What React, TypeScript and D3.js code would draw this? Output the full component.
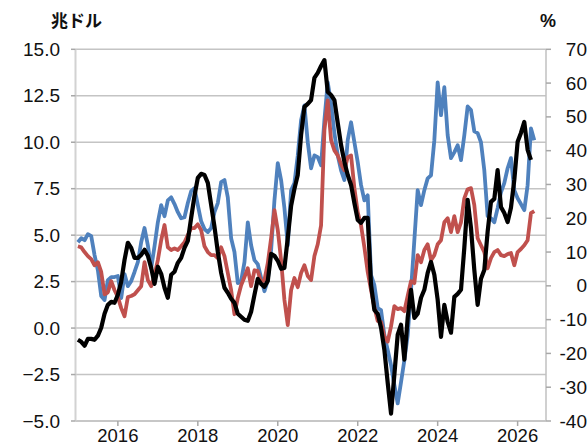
import React from 'react';
import * as d3 from 'd3';

const startYear = 2015;

const blueValues = [
  12.9, 14.1, 13.5, 15.3, 14.7, 9.1, 4.6, -3.0, -4.2, 1.7, 2.6, 2.6,
  2.9, -3.6, 3.5, -0.1, 1.4, 4.1, 7.0, 12.9, 17.1, 12.0, 5.2, 11.7,
  18.8, 23.9, 20.6, 25.3, 26.2, 24.2, 21.8, 20.0, 20.3, 24.5, 28.0, 28.9,
  23.9, 19.1, 16.8, 15.9, 17.1, 21.8, 24.5, 30.7, 31.3, 26.2, 14.1, 10.0,
  0.8, 1.4, 7.0, 18.8, 12.0, 7.6, 6.4, 2.3, -1.6, 1.7, 10.6, 25.3,
  36.3, 31.3, 23.0, 12.0, 28.3, 30.4, 38.6, 49.0, 53.4, 42.5, 34.8, 38.6,
  38.1, 35.7, 49.0, 60.2, 54.0, 45.2, 38.6, 34.2, 31.3, 43.1, 48.4, 42.5,
  36.6, 29.8, 25.3, 26.8, 3.2, 0.2, -6.6, -7.2, -14.6, -19.0, -23.5, -29.4,
  -34.8, -28.5, -22.0, -14.6, -1.3, 13.5, 28.3, 23.9, 28.3, 31.8, 32.7, 43.1,
  60.2, 50.5, 58.8, 44.6, 37.8, 39.5, 41.6, 37.2, 44.6, 53.1, 52.0, 45.7,
  45.2, 42.5, 34.2, 20.6, 20.0, 18.8, 23.0, 27.7, 30.4, 34.8, 37.8, 28.3,
  25.9, 24.2, 22.4, 29.8, 46.6, 43.1,
];

const redValues = [
  11.7, 11.4, 10.0, 8.8, 7.9, 6.1, 7.0, 4.1, -2.5, -1.9, 1.4, -1.3,
  -3.3, -6.6, -9.0, -3.3, -3.0, -2.5, -1.3, -0.1, 7.0, 1.7, -0.1, 3.2,
  7.6, 13.5, 18.0, 11.4, 10.6, 11.1, 10.6, 11.7, 12.9, 15.0, 17.1, 17.1,
  18.2, 16.5, 11.7, 10.0, 9.1, 9.1, 8.2, 11.4, 8.8, 3.8, -1.3, -8.4,
  -3.6, 0.2, 2.6, 5.2, -0.1, 4.6, 4.4, 1.1, 1.7, 6.7, 14.1, 22.4,
  16.5, 7.6, -4.2, -11.6, -1.3, 2.3, -0.4, 3.8, 6.1, 2.9, 1.7, 8.8,
  12.3, 17.9, 46.0, 54.9, 43.1, 40.1, 38.6, 36.0, 34.2, 38.1, 38.6, 28.9,
  21.8, 17.9, 11.4, 4.1, -1.3, -6.3, -10.4, -10.7, -15.0, -16.5, -12.0, -6.0,
  -6.9, -6.6, -7.5, -3.0, 1.4, 0.8, 9.1, 7.0, 10.6, 12.3, 7.6, 9.1,
  12.3, 13.5, 18.8, 20.0, 15.9, 20.6, 15.9, 18.8, 25.9, 28.6, 28.9, 23.9,
  14.1, 12.0, 10.0, 5.2, 8.2, 10.0, 10.6, 9.1, 8.8, 9.4, 9.7, 6.1,
  10.0, 10.9, 12.0, 13.5, 21.5, 22.1,
];

const blackValues = [
  -0.63, -0.74, -0.95, -0.58, -0.58, -0.63, -0.41, 0.02, 0.77, 1.25, 1.41, 1.36,
  1.79, 2.49, 3.67, 4.59, 4.32, 3.78, 3.78, 3.94, 4.21, 3.89, 3.24, 2.38,
  3.30, 2.92, 2.17, 1.63, 2.87, 3.03, 3.51, 3.78, 4.32, 4.69, 5.93, 7.11,
  8.08, 8.30, 8.24, 7.81, 6.63, 5.45, 4.10, 2.97, 2.17, 1.90, 1.58, 1.36,
  0.77, 0.61, 0.45, 0.39, 0.88, 1.79, 2.65, 2.38, 2.22, 2.54, 3.99, 3.89,
  3.62, 3.19, 3.24, 4.85, 6.57, 7.49, 8.24, 10.39, 11.90, 12.06, 12.27, 13.46,
  13.73, 14.10, 14.42, 12.70, 12.54, 12.27, 11.04, 9.85, 8.94, 8.24, 7.70, 6.73,
  5.82, 5.66, 5.93, 5.93, 2.33, 0.98, 0.77, 0.02, -1.17, -2.94, -4.6, -2.51,
  -0.36, 0.18, -1.70, 0.55, 2.06, 0.55, 0.77, 1.63, 2.06, 2.97, 3.56, 2.87,
  1.52, -0.47, 1.25, 0.34, -0.25, 1.68, 1.84, 2.06, 4.32, 6.90, 5.39, 3.13,
  1.25, 2.65, 3.13, 5.18, 6.79, 6.95, 8.50, 6.52, 6.19, 5.70, 6.47, 7.97,
  10.02, 10.50, 11.09, 9.59, 9.05,
];

const leftTicks = [15, 12.5, 10, 7.5, 5, 2.5, 0, -2.5, -5];
const rightTicks = [70, 60, 50, 40, 30, 20, 10, 0, -10, -20, -30, -40];
const yearTicks = [2016, 2018, 2020, 2022, 2024, 2026];
const leftTitle = '兆ドル';
const rightTitle = '%';

const FONT = "'Liberation Sans', Arial, sans-serif";

export default function App() {
  const W = 588;
  const H = 446;
  const left = 75.5;
  const right = 546;
  const top = 49.3;
  const bottom = 421;

  const x = d3.scaleLinear().domain([2014.94, 2026.71]).range([left, right]);
  const yL = d3.scaleLinear().domain([-5, 15]).range([bottom, top]);
  const yR = d3.scaleLinear().domain([-40, 70]).range([bottom, top]);
  const t = (i: number) => startYear + i / 12;

  const lineL = d3.line<number>().x((_, i) => x(t(i))).y((d) => yL(d)).curve(d3.curveLinear);
  const lineR = d3.line<number>().x((_, i) => x(t(i))).y((d) => yR(d)).curve(d3.curveLinear);

  return (
    <svg width={W} height={H} style={{ position: 'absolute', left: 0, top: 0, background: '#fff' }}>
      <rect x={0} y={0} width={W} height={H} fill="#fff" />
      {leftTicks.map((v) => (
        <line key={'g' + v} x1={left} x2={right} y1={yL(v)} y2={yL(v)} stroke={v === -5 ? '#b4b4b4' : '#c4c4c4'} strokeWidth={1.5} />
      ))}
      <line x1={left} x2={left} y1={top} y2={bottom} stroke="#d2d2d2" strokeWidth={2} />
      {leftTicks.map((v) => (
        <line key={'lt' + v} x1={71} x2={left} y1={yL(v)} y2={yL(v)} stroke="#a8a8a8" strokeWidth={1.5} />
      ))}
      {leftTicks.map((v) => (
        <text key={'ll' + v} x={60} y={yL(v)} textAnchor="end" dominantBaseline="central" fontFamily={FONT} fontSize={19} fill="#111">
          {d3.format('.1f')(v)}
        </text>
      ))}
      <line x1={right} x2={right} y1={top} y2={bottom} stroke="#c0c0c0" strokeWidth={1.5} />
      {rightTicks.map((v) => (
        <line key={'rt' + v} x1={right} x2={551} y1={yR(v)} y2={yR(v)} stroke="#a8a8a8" strokeWidth={1.5} />
      ))}
      {rightTicks.map((v) => (
        <text key={'rl' + v} x={587} y={yR(v)} textAnchor="end" dominantBaseline="central" fontFamily={FONT} fontSize={19} fill="#111">
          {v}
        </text>
      ))}
      {yearTicks.map((yr) => (
        <line key={'bt' + yr} x1={x(yr)} x2={x(yr)} y1={bottom} y2={426} stroke="#a8a8a8" strokeWidth={1.5} />
      ))}
      {yearTicks.map((yr) => (
        <text key={'bl' + yr} x={x(yr)} y={441.5} textAnchor="middle" fontFamily={FONT} fontSize={18.5} fill="#111">
          {yr}
        </text>
      ))}
      <text x={51} y={27} fontFamily="'Noto Sans CJK JP', sans-serif" fontWeight="bold" fontSize={17} fill="#111">
        {leftTitle}
      </text>
      <text x={540} y={27} fontFamily={FONT} fontWeight="bold" fontSize={18} fill="#111">
        {rightTitle}
      </text>
      <path d={lineR(blueValues) || ''} fill="none" stroke="#4f81bd" strokeWidth={3.8} strokeLinejoin="round" />
      <path d={lineR(redValues) || ''} fill="none" stroke="#c0504d" strokeWidth={3.8} strokeLinejoin="round" />
      <path d={lineL(blackValues) || ''} fill="none" stroke="#000" strokeWidth={4.2} strokeLinejoin="round" />
    </svg>
  );
}
